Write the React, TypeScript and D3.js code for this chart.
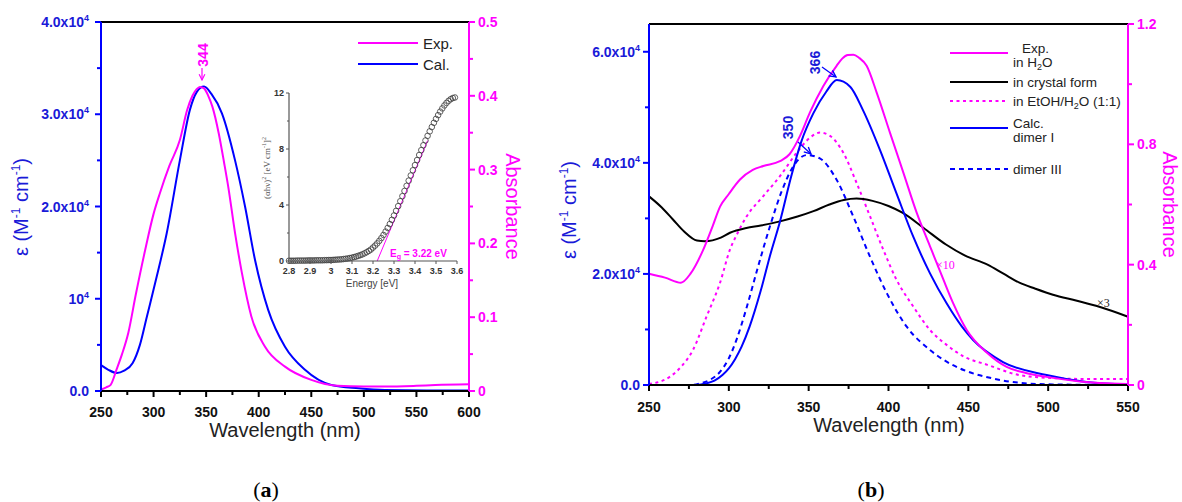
import React from 'react';
import * as d3 from 'd3';

// ---------- Panel (a) data ----------
const A_EXP_WL = [250, 255, 259, 265, 270, 276, 283, 292, 300, 306, 315, 325, 332, 337, 341, 344, 348, 352, 356, 362, 367, 371, 377.5, 384, 393, 406, 425, 450, 475, 500, 520, 550, 568, 600];
const A_EXP_ABS = [0.002, 0.005, 0.008, 0.03, 0.05, 0.079, 0.13, 0.191, 0.24, 0.268, 0.305, 0.34, 0.381, 0.4, 0.409, 0.412, 0.41, 0.4, 0.385, 0.349, 0.31, 0.277, 0.214, 0.16, 0.101, 0.06, 0.033, 0.015, 0.007, 0.006, 0.006, 0.007, 0.008, 0.009];
const A_CAL_WL = [250, 257, 265, 272, 280, 287, 293.5, 303, 312.5, 325, 334.6, 341, 348, 355, 365, 377.5, 387, 396.5, 409, 425, 444, 469, 495, 520, 560, 600];
const A_CAL_EPS = [2800, 2300, 1950, 2200, 3000, 5000, 8000, 12400, 17100, 25000, 30500, 32400, 33000, 32200, 30100, 25000, 20000, 14200, 8800, 4800, 2300, 650, 290, 100, 50, 50];

const A_X_TICKS = [250, 300, 350, 400, 450, 500, 550, 600];
const A_X_MINOR = [275, 325, 375, 425, 475, 525, 575];
const A_YL_TICKS = [0, 10000, 20000, 30000, 40000];
const A_YL_LABELS = ['0.0', '10^4', '2.0x10^4', '3.0x10^4', '4.0x10^4'];
const A_YL_MINOR = [5000, 15000, 25000, 35000];
const A_YR_TICKS = [0, 0.1, 0.2, 0.3, 0.4, 0.5];
const A_YR_LABELS = ['0', '0.1', '0.2', '0.3', '0.4', '0.5'];
const A_YR_MINOR = [0.05, 0.15, 0.25, 0.35, 0.45];

// Inset (Tauc plot)
const TAUC_E = [2.80, 2.81, 2.82, 2.83, 2.84, 2.85, 2.86, 2.87, 2.88, 2.89, 2.90, 2.91, 2.92, 2.93, 2.94, 2.95, 2.96, 2.97, 2.98, 2.99,
  3.00, 3.01, 3.02, 3.03, 3.04, 3.05, 3.06, 3.07, 3.08, 3.09, 3.10, 3.11, 3.12, 3.13, 3.14, 3.15, 3.16, 3.17, 3.18, 3.19,
  3.20, 3.21, 3.22, 3.23, 3.24, 3.25, 3.26, 3.27, 3.28, 3.29, 3.30, 3.31, 3.32, 3.33, 3.34, 3.35, 3.36, 3.37, 3.38, 3.39,
  3.40, 3.41, 3.42, 3.43, 3.44, 3.45, 3.46, 3.47, 3.48, 3.49, 3.50, 3.51, 3.52, 3.53, 3.54, 3.55, 3.56, 3.57, 3.58, 3.59];
const TAUC_V = [0.02, 0.02, 0.02, 0.02, 0.03, 0.03, 0.03, 0.03, 0.03, 0.04, 0.04, 0.04, 0.04, 0.05, 0.05, 0.05, 0.05, 0.06, 0.06, 0.07,
  0.07, 0.08, 0.09, 0.1, 0.11, 0.12, 0.14, 0.16, 0.18, 0.21, 0.24, 0.28, 0.32, 0.37, 0.42, 0.48, 0.55, 0.63, 0.72, 0.82,
  0.96, 1.1, 1.26, 1.44, 1.64, 1.86, 2.1, 2.36, 2.64, 2.94, 3.25, 3.58, 3.92, 4.27, 4.63, 5.0, 5.37, 5.74, 6.11, 6.48,
  6.85, 7.21, 7.57, 7.92, 8.27, 8.61, 8.94, 9.26, 9.57, 9.87, 10.15, 10.42, 10.67, 10.9, 11.11, 11.29, 11.44, 11.56, 11.64, 11.68];
const TAUC_FIT_E = [3.22, 3.46];
const TAUC_FIT_V = [0, 8.6];
const IN_X_TICKS = [2.8, 2.9, 3.0, 3.1, 3.2, 3.3, 3.4, 3.5, 3.6];
const IN_X_LABELS = ['2.8', '2.9', '3', '3.1', '3.2', '3.3', '3.4', '3.5', '3.6'];
const IN_Y_TICKS = [0, 4, 8, 12];
const IN_Y_MINOR = [2, 6, 10];

// ---------- Panel (b) data ----------
const B_H2O_WL = [250, 260, 270, 276, 284, 290, 294.5, 300, 307, 315, 321.6, 332, 338, 344.6, 350.8, 359.2, 367.5, 371, 374.5, 378, 381.5, 386.3, 392.6, 400.9, 409.3, 417.7, 426, 434.4, 440.4, 449, 461.7, 474, 486, 499, 520, 549];
const B_H2O_ABS = [0.37, 0.357, 0.34, 0.37, 0.45, 0.53, 0.593, 0.635, 0.683, 0.715, 0.728, 0.744, 0.767, 0.828, 0.906, 0.994, 1.061, 1.085, 1.097, 1.098, 1.088, 1.061, 0.972, 0.839, 0.706, 0.572, 0.461, 0.35, 0.273, 0.183, 0.107, 0.06, 0.04, 0.027, 0.012, 0.003];
const B_CRY_WL = [250, 258, 265, 272, 280, 285, 295, 300.7, 311, 320, 332, 343, 353, 363, 372, 380, 390, 400, 409, 422, 436, 448, 462, 472, 482, 492, 503, 518, 532, 550];
const B_CRY_ABS = [0.627, 0.59, 0.55, 0.51, 0.48, 0.478, 0.49, 0.506, 0.522, 0.53, 0.544, 0.56, 0.578, 0.6, 0.615, 0.62, 0.612, 0.595, 0.572, 0.522, 0.467, 0.43, 0.4, 0.37, 0.34, 0.32, 0.3, 0.28, 0.26, 0.227];
const B_ETOH_WL = [250, 263, 270, 277.6, 286, 294.5, 300.7, 305, 311.2, 321.6, 332, 342.5, 350.8, 357.1, 363.4, 371.7, 380, 388.4, 396.7, 405, 415.5, 426, 436, 447, 462, 482, 503, 525, 550];
const B_ETOH_ABS = [0.003, 0.027, 0.06, 0.117, 0.227, 0.34, 0.45, 0.5, 0.561, 0.628, 0.694, 0.772, 0.822, 0.839, 0.828, 0.772, 0.672, 0.561, 0.45, 0.35, 0.261, 0.183, 0.135, 0.095, 0.067, 0.033, 0.023, 0.02, 0.02];
const B_D1_WL = [250, 280, 286, 291, 296, 300, 304, 308, 313, 320, 326, 332, 339, 345.6, 352.9, 361, 367.6, 376, 384, 394.7, 405, 415.5, 426, 436.4, 446, 453, 471.7, 499, 524, 550];
const B_D1_EPS = [0, 0, 300, 800, 1800, 3000, 4700, 6900, 10500, 17000, 23500, 29400, 37500, 44000, 48900, 52800, 54900, 53700, 49500, 42300, 34500, 26700, 20100, 14700, 10500, 8100, 4140, 1800, 540, 100];
const B_D3_WL = [250, 276, 282, 288, 294, 300, 305, 311, 318, 326, 333, 340, 348.8, 357, 367.6, 378, 388.4, 399, 411.4, 426, 436.4, 447, 462, 482, 503, 550];
const B_D3_EPS = [0, 0, 300, 900, 2200, 4800, 8300, 13800, 21000, 28800, 34800, 39200, 41400, 40800, 36900, 30300, 23100, 16500, 10500, 6300, 4200, 2700, 1400, 400, 100, 0];

const B_X_TICKS = [250, 300, 350, 400, 450, 500, 550];
const B_X_MINOR = [275, 325, 375, 425, 475, 525];
const B_YL_TICKS = [0, 20000, 40000, 60000];
const B_YL_LABELS = ['0.0', '2.0x10^4', '4.0x10^4', '6.0x10^4'];
const B_YL_MINOR = [10000, 30000, 50000];
const B_YR_TICKS = [0, 0.4, 0.8, 1.2];
const B_YR_LABELS = ['0', '0.4', '0.8', '1.2'];
const B_YR_MINOR = [0.2, 0.6, 1.0];

const BLUE = '#0000ff';
const BLUE_T = '#1a1ad8';
const PINK = '#ff00ff';
const SANS = '"Liberation Sans", Arial, sans-serif';
const SERIF = '"Liberation Serif", "Times New Roman", serif';

function supLabel(s: string) {
  const [base, exp] = s.split('^');
  return (
    <>
      {base}
      {exp ? <tspan dy={-6} fontSize={9}>{exp}</tspan> : null}
    </>
  );
}

function line(xs: number[], ys: number[], sx: any, sy: any) {
  return d3
    .line<number>()
    .x((_, i) => sx(xs[i]))
    .y((d) => sy(d))
    .curve(d3.curveMonotoneX)(ys) as string;
}

export default function App() {
  const xa = d3.scaleLinear().domain([250, 600]).range([101, 469]);
  const yaL = d3.scaleLinear().domain([0, 40000]).range([391, 22]);
  const yaR = d3.scaleLinear().domain([0, 0.5]).range([391, 22]);
  const xi = d3.scaleLinear().domain([2.8, 3.6]).range([289, 457]);
  const yi = d3.scaleLinear().domain([0, 12]).range([261, 93]);
  const xb = d3.scaleLinear().domain([250, 550]).range([649, 1128]);
  const ybL = d3.scaleLinear().domain([0, 65000]).range([385, 24]);
  const ybR = d3.scaleLinear().domain([0, 1.2]).range([385, 24]);

  const axisLabel = { fontFamily: SANS, fontWeight: 700, fontSize: 14 } as const;

  const renderPanelAxes = (
    x: any, yL: any, yR: any,
    xTicks: number[], xMinor: number[],
    yLTicks: number[], yLLabels: string[], yLMinor: number[],
    yRTicks: number[], yRLabels: string[], yRMinor: number[],
    xLabelY: number, yLLabelX: number, yRLabelX: number
  ) => {
    const [x0, x1] = x.range();
    const [yb, yt] = yL.range();
    return (
      <g>
        <line x1={x0} x2={x1} y1={yt} y2={yt} stroke="#000" strokeWidth={2} />
        <line x1={x0} x2={x1} y1={yb} y2={yb} stroke="#000" strokeWidth={2} />
        {xTicks.map((t) => (
          <g key={'xt' + t}>
            <line x1={x(t)} x2={x(t)} y1={yb} y2={yb + 6} stroke="#000" strokeWidth={2} />
            <text x={x(t)} y={xLabelY} textAnchor="middle" {...axisLabel} fill="#111">{t}</text>
          </g>
        ))}
        {xMinor.map((t) => (
          <line key={'xm' + t} x1={x(t)} x2={x(t)} y1={yb} y2={yb + 4} stroke="#000" strokeWidth={2} />
        ))}
        <line x1={x0} x2={x0} y1={yt} y2={yb} stroke={BLUE} strokeWidth={2} />
        {yLTicks.map((t, i) => (
          <g key={'yl' + t}>
            <line x1={x0 - 6} x2={x0} y1={yL(t)} y2={yL(t)} stroke={BLUE} strokeWidth={2} />
            <text x={yLLabelX} y={yL(t) + 5} textAnchor="end" {...axisLabel} fill={BLUE_T}>{supLabel(yLLabels[i])}</text>
          </g>
        ))}
        {yLMinor.map((t) => (
          <line key={'ylm' + t} x1={x0 - 4} x2={x0} y1={yL(t)} y2={yL(t)} stroke={BLUE} strokeWidth={2} />
        ))}
        <line x1={x1} x2={x1} y1={yt} y2={yb} stroke={PINK} strokeWidth={2} />
        {yRTicks.map((t, i) => (
          <g key={'yr' + t}>
            <line x1={x1} x2={x1 + 6} y1={yR(t)} y2={yR(t)} stroke={PINK} strokeWidth={2} />
            <text x={yRLabelX} y={yR(t) + 5} textAnchor="start" {...axisLabel} fill={PINK}>{yRLabels[i]}</text>
          </g>
        ))}
        {yRMinor.map((t) => (
          <line key={'yrm' + t} x1={x1} x2={x1 + 4} y1={yR(t)} y2={yR(t)} stroke={PINK} strokeWidth={2} />
        ))}
      </g>
    );
  };

  const epsTitle = (cx: number, cy: number) => (
    <text transform={`translate(${cx},${cy}) rotate(-90)`} textAnchor="middle" fontFamily={SANS} fontSize={20} fill={BLUE_T}>
      ε (M<tspan fontSize={12} dy={-8}>-1</tspan>
      <tspan dy={8}> cm</tspan>
      <tspan fontSize={12} dy={-8}>-1</tspan>
      <tspan dy={8}>)</tspan>
    </text>
  );

  const absTitle = (cx: number, cy: number) => (
    <text transform={`translate(${cx},${cy}) rotate(90)`} textAnchor="middle" fontFamily={SANS} fontSize={20} fill={PINK}>
      Absorbance
    </text>
  );

  return (
    <svg width={1182} height={502} style={{ position: 'absolute', left: 0, top: 0, background: '#fff' }}>
      <defs>
        <marker id="arrB" viewBox="0 0 10 10" refX={9} refY={5} markerWidth={7} markerHeight={7} orient="auto">
          <path d="M1,1 L9,5 L1,9" fill="none" stroke={BLUE} strokeWidth={1.6} />
        </marker>
        <marker id="arrP" viewBox="0 0 10 10" refX={9} refY={5} markerWidth={6} markerHeight={6} orient="auto">
          <path d="M1,1 L9,5 L1,9" fill="none" stroke={PINK} strokeWidth={1.6} />
        </marker>
      </defs>
      <rect x={0} y={0} width={1182} height={502} fill="#fff" />

      {/* ================= Panel (a) ================= */}
      <g>
        <path d={line(TAUC_FIT_E, TAUC_FIT_V, xi, yi)} stroke={PINK} strokeWidth={1} fill="none" />
        {TAUC_E.map((e, i) => (
          <circle key={'tc' + i} cx={xi(e)} cy={yi(TAUC_V[i])} r={2.8} fill="none" stroke="#3a3a3a" strokeWidth={0.8} />
        ))}
        <line x1={xi(2.8)} x2={xi(3.6)} y1={yi(0)} y2={yi(0)} stroke="#555" strokeWidth={1.2} />
        <line x1={xi(2.8)} x2={xi(2.8)} y1={yi(0)} y2={yi(12)} stroke="#555" strokeWidth={1.2} />
        {IN_X_TICKS.map((t, i) => (
          <g key={'ixt' + i}>
            <line x1={xi(t)} x2={xi(t)} y1={yi(0)} y2={yi(0) + 3} stroke="#555" strokeWidth={1} />
            <text x={xi(t)} y={yi(0) + 13} textAnchor="middle" fontFamily={SANS} fontWeight={700} fontSize={9} fill="#333">{IN_X_LABELS[i]}</text>
          </g>
        ))}
        {IN_Y_TICKS.map((t) => (
          <g key={'iyt' + t}>
            <line x1={xi(2.8) - 3} x2={xi(2.8)} y1={yi(t)} y2={yi(t)} stroke="#555" strokeWidth={1} />
            <text x={xi(2.8) - 5} y={yi(t) + 3} textAnchor="end" fontFamily={SANS} fontWeight={700} fontSize={9} fill="#333">{t}</text>
          </g>
        ))}
        {IN_Y_MINOR.map((t) => (
          <line key={'iym' + t} x1={xi(2.8) - 2} x2={xi(2.8)} y1={yi(t)} y2={yi(t)} stroke="#555" strokeWidth={1} />
        ))}
        <text x={372} y={287} textAnchor="middle" fontFamily={SANS} fontSize={10} fill="#444">Energy [eV]</text>
        <text transform="translate(270,168) rotate(-90)" textAnchor="middle" fontFamily={SERIF} fontSize={9} fill="#555">
          (αhν)<tspan fontSize={6} dy={-4}>2</tspan><tspan dy={4}> [eV cm</tspan><tspan fontSize={6} dy={-4}>-1</tspan><tspan dy={4}>]</tspan><tspan fontSize={6} dy={-4}>2</tspan>
        </text>
        <text x={390} y={257} fontFamily={SANS} fontWeight={700} fontSize={10} fill={PINK}>
          E<tspan fontSize={7} dy={2}>g</tspan><tspan dy={-2}> = 3.22 eV</tspan>
        </text>
      </g>

      <path d={line(A_CAL_WL, A_CAL_EPS, xa, yaL)} stroke={BLUE} strokeWidth={2} fill="none" />
      <path d={line(A_EXP_WL, A_EXP_ABS, xa, yaR)} stroke={PINK} strokeWidth={2} fill="none" />

      {renderPanelAxes(xa, yaL, yaR, A_X_TICKS, A_X_MINOR, A_YL_TICKS, A_YL_LABELS, A_YL_MINOR, A_YR_TICKS, A_YR_LABELS, A_YR_MINOR, 417, 89, 478)}

      <text transform="translate(208,55) rotate(-90)" textAnchor="middle" fontFamily={SANS} fontWeight={700} fontSize={14} fill={PINK}>344</text>
      <line x1={202} y1={68} x2={202} y2={80} stroke={PINK} strokeWidth={1.2} markerEnd="url(#arrP)" />

      <line x1={358} x2={418} y1={43} y2={43} stroke={PINK} strokeWidth={2} />
      <text x={423} y={48.5} fontFamily={SANS} fontSize={15} fill="#222">Exp.</text>
      <line x1={358} x2={418} y1={64} y2={64} stroke={BLUE} strokeWidth={2} />
      <text x={423} y={69.5} fontFamily={SANS} fontSize={15} fill="#222">Cal.</text>

      {epsTitle(28, 207)}
      {absTitle(506, 206.5)}
      <text x={285} y={437} textAnchor="middle" fontFamily={SANS} fontSize={20} fill="#222">Wavelength (nm)</text>
      <text x={266} y={497} textAnchor="middle" fontFamily={SERIF} fontSize={22} fill="#000">(<tspan fontWeight={700}>a</tspan>)</text>

      {/* ================= Panel (b) ================= */}
      <path d={line(B_ETOH_WL, B_ETOH_ABS, xb, ybR)} stroke={PINK} strokeWidth={2} strokeDasharray="3,3.5" fill="none" />
      <path d={line(B_D3_WL, B_D3_EPS, xb, ybL)} stroke={BLUE} strokeWidth={2} strokeDasharray="5,4" fill="none" />
      <path d={line(B_CRY_WL, B_CRY_ABS, xb, ybR)} stroke="#000" strokeWidth={2} fill="none" />
      <path d={line(B_D1_WL, B_D1_EPS, xb, ybL)} stroke={BLUE} strokeWidth={2} fill="none" />
      <path d={line(B_H2O_WL, B_H2O_ABS, xb, ybR)} stroke={PINK} strokeWidth={2} fill="none" />

      {renderPanelAxes(xb, ybL, ybR, B_X_TICKS, B_X_MINOR, B_YL_TICKS, B_YL_LABELS, B_YL_MINOR, B_YR_TICKS, B_YR_LABELS, B_YR_MINOR, 412, 640, 1137)}

      <text transform="translate(820,62.5) rotate(-90)" textAnchor="middle" fontFamily={SANS} fontWeight={700} fontSize={14} fill={BLUE_T}>366</text>
      <line x1={822} y1={67} x2={836} y2={77} stroke={BLUE} strokeWidth={1.2} markerEnd="url(#arrB)" />
      <text transform="translate(792.5,127.5) rotate(-90)" textAnchor="middle" fontFamily={SANS} fontWeight={700} fontSize={14} fill={BLUE_T}>350</text>
      <line x1={798} y1={142} x2={811} y2={154} stroke={BLUE} strokeWidth={1.2} markerEnd="url(#arrB)" />
      <text x={936} y={269} fontFamily={SERIF} fontSize={12} fill={PINK}>×10</text>
      <text x={1097} y={307} fontFamily={SERIF} fontSize={12} fill="#222">×3</text>

      <g fontFamily={SANS} fontSize={13.5} fill="#222">
        <line x1={950} x2={1008} y1={53} y2={53} stroke={PINK} strokeWidth={2} />
        <text x={1022} y={53}>Exp.</text>
        <text x={1013} y={67}>in H<tspan fontSize={9} dy={3}>2</tspan><tspan dy={-3}>O</tspan></text>
        <line x1={950} x2={1008} y1={82} y2={82} stroke="#000" strokeWidth={2} />
        <text x={1013} y={87}>in crystal form</text>
        <line x1={950} x2={1008} y1={101} y2={101} stroke={PINK} strokeWidth={2} strokeDasharray="3,3.5" />
        <text x={1013} y={106}>in EtOH/H<tspan fontSize={9} dy={3}>2</tspan><tspan dy={-3}>O (1:1)</tspan></text>
        <line x1={950} x2={1008} y1={128} y2={128} stroke={BLUE} strokeWidth={2} />
        <text x={1013} y={128}>Calc.</text>
        <text x={1013} y={142}>dimer I</text>
        <line x1={950} x2={1008} y1={169} y2={169} stroke={BLUE} strokeWidth={2} strokeDasharray="5,4" />
        <text x={1013} y={174}>dimer III</text>
      </g>

      {epsTitle(576, 210)}
      {absTitle(1163, 204.5)}
      <text x={889} y={432} textAnchor="middle" fontFamily={SANS} fontSize={20} fill="#222">Wavelength (nm)</text>
      <text x={871} y={497} textAnchor="middle" fontFamily={SERIF} fontSize={22} fill="#000">(<tspan fontWeight={700}>b</tspan>)</text>
    </svg>
  );
}
